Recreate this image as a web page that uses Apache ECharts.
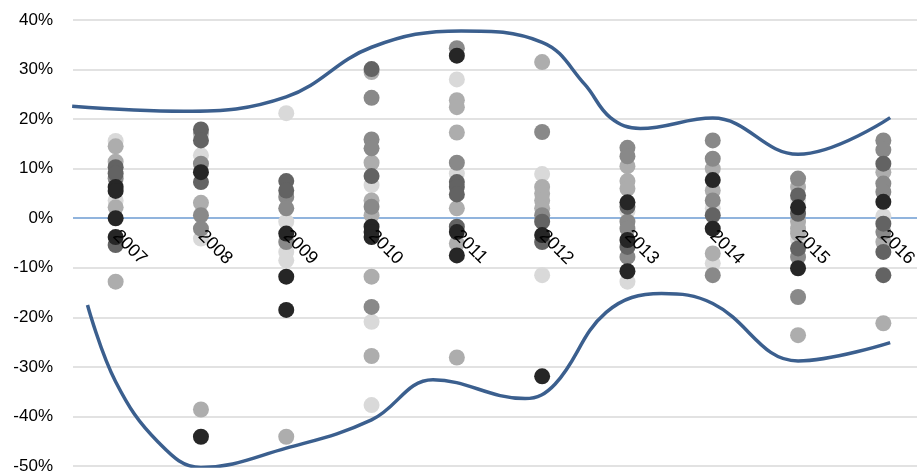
<!DOCTYPE html>
<html>
<head>
<meta charset="utf-8">
<script src="https://cdn.jsdelivr.net/npm/echarts@6/dist/echarts.min.js"></script>
<style>
html,body{margin:0;padding:0;background:#fff;}
#chart{width:917px;height:475px;}
</style>
</head>
<body>
<div id="chart"></div>
<script>
// Categories (years)
const years = ['2007','2008','2009','2010','2011','2012','2013','2014','2015','2016'];
// Y tick labels (%)
const yMin = -50, yMax = 40, yStep = 10;

// Scatter points by shade: [year, value %]
const blackPts = [
  [2007,6.3],[2007,5.5],[2007,0],[2007,-3.8],
  [2008,9.3],[2008,-44.1],
  [2009,-3.1],[2009,-11.8],[2009,-18.5],
  [2010,-1.7],[2010,-2.8],[2010,-3.8],
  [2011,32.8],[2011,-2.8],[2011,-7.5],
  [2012,-3.4],[2012,-31.9],
  [2013,3.2],[2013,-4.4],[2013,-10.7],
  [2014,7.7],[2014,-2.1],
  [2015,2.2],[2015,-10.1],
  [2016,3.3]
];
const darkPts = [
  [2007,10.3],[2007,9.0],[2007,-5.4],
  [2008,17.9],[2008,15.7],[2008,7.3],
  [2009,7.5],[2009,5.6],
  [2010,30.1],[2010,8.5],
  [2011,7.3],[2011,6.3],[2011,4.8],[2011,-1.7],
  [2012,-0.7],[2012,-4.8],
  [2013,2.3],[2013,-5.8],
  [2014,0.6],
  [2015,4.6],[2015,0.9],[2015,-6.1],
  [2016,11.0],[2016,-1.1],[2016,-6.8],[2016,-11.5]
];
const midPts = [
  [2007,8.0],
  [2008,11.0],[2008,0.6],[2008,-2.1],
  [2009,4.3],[2009,2.0],[2009,-4.8],
  [2010,24.3],[2010,15.9],[2010,14.1],[2010,2.3],[2010,-17.9],
  [2011,34.3],[2011,11.2],
  [2012,17.4],[2012,0.6],
  [2013,14.2],[2013,12.5],[2013,-0.7],[2013,-2.1],[2013,-7.8],
  [2014,15.7],[2014,12.0],[2014,3.6],[2014,-11.5],
  [2015,8.0],[2015,-7.8],[2015,-15.9],
  [2016,15.7],[2016,13.8],[2016,7.0],[2016,5.3],[2016,-2.8]
];
const lightPts = [
  [2007,14.5],[2007,11.4],[2007,2.2],[2007,-12.8],
  [2008,17.1],[2008,3.1],[2008,-38.6],
  [2009,-44.1],
  [2010,29.5],[2010,11.2],[2010,3.6],[2010,0.6],[2010,-11.8],[2010,-27.8],
  [2011,23.8],[2011,22.4],[2011,17.3],[2011,2.0],[2011,-5.1],[2011,-28.1],
  [2012,31.5],[2012,6.3],[2012,5.0],[2012,3.6],[2012,2.0],
  [2013,10.5],[2013,7.5],[2013,6.0],
  [2014,10.0],[2014,5.6],[2014,-7.1],
  [2015,6.3],[2015,-0.7],[2015,-2.1],[2015,-3.1],[2015,-23.6],
  [2016,9.3],[2016,-4.8],[2016,-21.2]
];
const lightestPts = [
  [2007,15.6],[2007,3.6],
  [2008,12.7],[2008,-4.1],
  [2009,21.2],[2009,-0.7],[2009,-6.8],[2009,-8.5],
  [2010,6.7],[2010,-20.9],[2010,-37.7],
  [2011,28.0],[2011,9.0],
  [2012,8.9],[2012,-11.5],
  [2013,1.4],[2013,-12.8],
  [2014,2.0],[2014,-9.1],
  [2015,3.6],[2015,-4.3],
  [2016,0.4]
];

// Envelope curves: [year position, value %]
const upperLine = [
  [2006.49,22.6],[2007.8,21.6],[2009,24.5],[2010,34.5],[2011.05,37.8],[2012,35.5],
  [2012.5,27.0],[2012.8,20.3],[2013.15,18.1],[2014,20.2],[2015,12.9],[2016.08,20.3]
];
const lowerLine = [
  [2006.67,-17.5],[2007,-33.0],[2007.5,-45.2],[2008,-50.3],[2009,-46.4],[2010,-40.7],
  [2010.72,-32.6],[2011.8,-36.4],[2012.15,-33.5],[2012.75,-19.0],[2013.4,-15.2],
  [2014,-17.2],[2015,-28.8],[2016.08,-25.1]
];

const FONT = 'Liberation Sans';
const gridColors = [];
for (let v = yMin; v <= yMax; v += yStep) gridColors.push(v === 0 ? '#6C9BD2' : '#D9D9D9');

const gridTop = 20, gridHeight = 446;
const gridRect = { left: 73, top: gridTop, width: 853, height: gridHeight, containLabel: false, outerBoundsMode: 'none' };
// distance from grid bottom up to the 0% line (axis sits on zero)
const zeroOffset = -gridHeight * (0 - yMin) / (yMax - yMin);

function scatterSeries(name, pts, color) {
  return {
    name: name, type: 'scatter', xAxisIndex: 1, yAxisIndex: 1,
    symbol: 'circle', symbolSize: 16,
    itemStyle: { color: color, opacity: 1 },
    data: pts, z: 3
  };
}
function lineSeries(name, pts) {
  return {
    name: name, type: 'line', xAxisIndex: 1, yAxisIndex: 1, data: pts, smooth: 0.4,
    showSymbol: false, symbol: 'none', lineStyle: { color: '#3B5F8E', width: 3.5 }, z: 4
  };
}

const chart = echarts.init(document.getElementById('chart'), null, {renderer: 'canvas'});
chart.setOption({
  animation: false,
  backgroundColor: '#fff',
  grid: [Object.assign({}, gridRect), Object.assign({}, gridRect)],
  xAxis: [
    {
      gridIndex: 0, type: 'category', data: years, boundaryGap: true, position: 'bottom', z: 10,
      offset: zeroOffset,
      axisLine: { show: false, onZero: false },
      axisTick: { show: false },
      splitLine: { show: false },
      axisLabel: { interval: 0, rotate: -45, margin: 15, color: '#000', fontFamily: FONT, fontSize: 18 }
    },
    {
      gridIndex: 1, type: 'value', min: 2006.5, max: 2016.5, show: false
    }
  ],
  yAxis: [
    {
      gridIndex: 0, type: 'value', min: yMin, max: yMax, interval: yStep,
      axisLine: { show: false }, axisTick: { show: false },
      axisLabel: { formatter: '{value}%', margin: 20, color: '#000', fontFamily: FONT, fontSize: 17 },
      splitLine: { show: true, lineStyle: { color: gridColors, width: 1.5 } }
    },
    {
      gridIndex: 1, type: 'value', min: yMin, max: yMax, show: false
    }
  ],
  series: [
    scatterSeries('lightest', lightestPts, '#D9D9D9'),
    scatterSeries('light', lightPts, '#ADADAD'),
    scatterSeries('mid', midPts, '#898989'),
    scatterSeries('dark', darkPts, '#636363'),
    scatterSeries('black', blackPts, '#262626'),
    lineSeries('upper', upperLine),
    lineSeries('lower', lowerLine)
  ]
});
</script>
</body>
</html>
